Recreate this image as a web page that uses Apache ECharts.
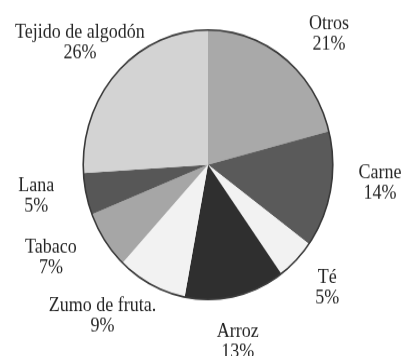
<!DOCTYPE html>
<html>
<head>
<meta charset="utf-8">
<script src="https://cdn.jsdelivr.net/npm/echarts@6/dist/echarts.min.js"></script>
<style>
  html, body { margin: 0; padding: 0; background: #ffffff; overflow: hidden; }
  #wrap { width: 402px; height: 356px; overflow: hidden; }
  /* the pie is drawn slightly taller than wide */
  #chart { width: 402px; height: 330px; transform: scaleY(1.08); transform-origin: 0 0; }
</style>
</head>
<body>
<div id="wrap"><div id="chart"></div></div>
<script>
// Sectors, clockwise from twelve o'clock
const categories = ['Otros', 'Carne', 'Té', 'Arroz', 'Zumo de fruta.', 'Tabaco', 'Lana', 'Tejido de algodón'];
const shares = [21, 14, 5, 13, 9, 7, 5, 26];
const shades = ['#a9a9a9', '#5a5a5a', '#f2f2f2', '#2f2f2f', '#f2f2f2', '#a6a6a6', '#575757', '#d3d3d3'];
// small per-label nudges away from the mid-angle position
const labelNudge = [[15, 16], [2, -15], [-3, -8], [-8, -5], [-27, -14], [-14, -11], [-3, -8], [-2, 6]];

const center = [208, 152.5];
const slices = categories.map((name, i) => ({ name, value: shares[i], itemStyle: { color: shades[i] } }));

const chart = echarts.init(document.getElementById('chart'), null, { renderer: 'canvas' });
chart.setOption({
  animation: false,
  backgroundColor: '#ffffff',
  series: [
    {
      // filled sectors
      type: 'pie',
      center: center,
      radius: [0, 125],
      startAngle: 90,
      clockwise: true,
      silent: true,
      label: { show: false },
      labelLine: { show: false },
      data: slices
    },
    {
      // dark rim around the pie
      type: 'pie',
      center: center,
      radius: [124, 125.6],
      silent: true,
      label: { show: false },
      labelLine: { show: false },
      itemStyle: { color: '#3a3a3a' },
      data: [{ name: 'rim', value: 1 }]
    },
    {
      // invisible ring that carries the category labels
      type: 'pie',
      center: center,
      radius: [158, 182],
      startAngle: 90,
      clockwise: true,
      silent: true,
      itemStyle: { color: 'rgba(0,0,0,0)' },
      labelLine: { show: false },
      label: {
        show: true,
        position: 'inside',
        formatter: p => p.name + '\n' + p.value + '%',
        color: '#262626',
        fontFamily: "'Liberation Serif', 'DejaVu Serif', serif",
        fontSize: 18,
        lineHeight: 19,
        align: 'center'
      },
      data: categories.map((name, i) => ({ name, value: shares[i], label: { offset: labelNudge[i] } }))
    }
  ]
});
</script>
</body>
</html>
